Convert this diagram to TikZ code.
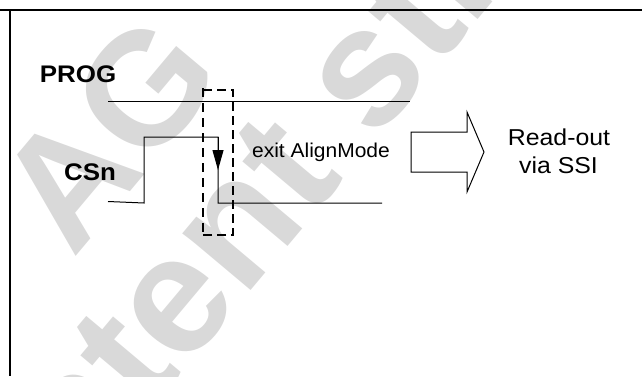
\documentclass[tikz,border=0pt]{standalone}
\usepackage{fontspec}
\setmainfont{Liberation Sans}
\usetikzlibrary{arrows.meta}
\definecolor{wm}{RGB}{217,217,217}
\tikzset{
  frameline/.style={line width=1.3pt},
  sigline/.style={line width=1pt, line join=miter},
  thickdash/.style={line width=2.8pt, dash pattern=on 9pt off 5pt},
  thindash/.style={line width=1.6pt, dash pattern=on 9pt off 6pt},
  wmtext/.style={text=wm, anchor=base west, inner sep=0pt, rotate=50},
  siglabel/.style={font=\fontsize{24}{28}\selectfont\bfseries, anchor=base, inner sep=0pt, xscale=1.08},
  plainlabel/.style={anchor=base, inner sep=0pt}
}
\begin{document}
\begin{tikzpicture}[x=1pt,y=-1pt]
\useasboundingbox (0,0) rectangle (642,376);
\begin{scope}
\clip (0,0) rectangle (642,376);
\node[wmtext, font=\fontsize{160}{160}\selectfont\bfseries] (wmone) at (73,260) {AG};
\node[wmtext, font=\fontsize{168}{168}\selectfont\bfseries] (wmtwo) at (-45,643) {content still valid};
\end{scope}
% frame
\draw[frameline] (0,10) -- (642,10);
\draw[frameline] (10,10) -- (10,376);
% labels
\node[siglabel] (prog) at (78,82) {PROG};
\node[siglabel] (csn) at (90,180) {CSn};
% PROG signal
\draw[sigline] (108,101) -- (410,101);
% CSn signal
\draw[sigline] (108,201.5) -- (144,203) -- (144,137) -- (218,137) -- (218,203) -- (382,203);
\draw[-{Triangle[width=11pt,length=20pt]}, line width=1pt] (218,137) -- (218,170);
% dashed box
\draw[thickdash] (203,90) -- (233,90) -- (233,235) -- (203,235);
\draw[thindash] (203,88) -- (203,235);
% text
\node[plainlabel, font=\fontsize{20}{24}\selectfont, xscale=1.05] (exit) at (321,157) {exit AlignMode};
% big arrow
\draw[line width=1pt, line join=miter] (411,132) -- (467,132) -- (467,112) -- (484,152) -- (467,192) -- (467,172) -- (411,172) -- cycle;
\node[plainlabel, font=\fontsize{23}{27}\selectfont, xscale=1.08] (readout) at (559,145) {Read-out};
\node[plainlabel, font=\fontsize{23}{27}\selectfont, xscale=1.08] (viassi) at (558.5,173) {via SSI};
\end{tikzpicture}
\end{document}
